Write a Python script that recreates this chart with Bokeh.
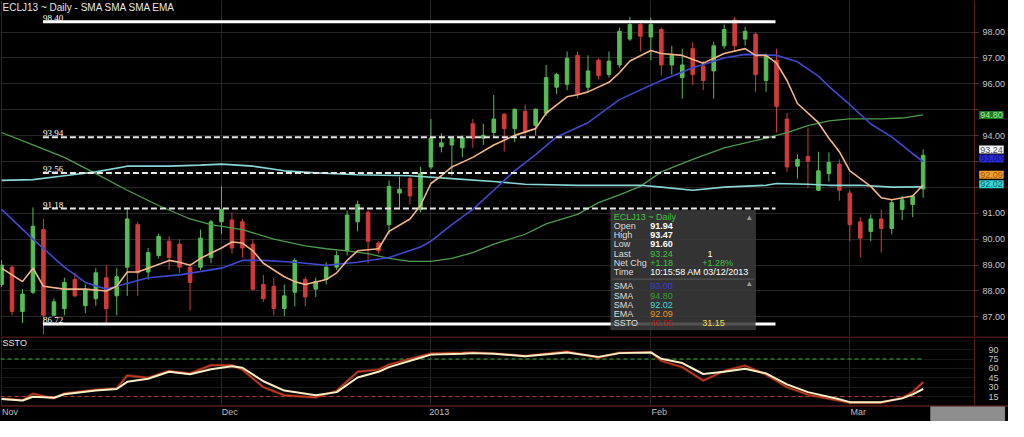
from bokeh.plotting import figure
from bokeh.models import (Range1d, FixedTicker, Label, BoxAnnotation, ColumnDataSource,
                          NumeralTickFormatter, Span)
from bokeh.layouts import column
from bokeh.embed import file_html
from bokeh.resources import INLINE
from bokeh.core.properties import value

# ---------------- data ----------------
opens = [88.25, 88.92, 87.21, 87.95, 90.37, 87.06, 87.32, 88.44, 87.43, 87.70,
         88.51, 87.81, 88.92, 90.56, 88.73, 89.37, 89.92, 89.81, 88.92, 88.92,
         89.29, 90.67, 90.74, 90.67, 89.81, 88.25, 88.18, 87.32, 87.95, 88.44,
         88.07, 88.44, 88.92, 89.55, 90.67, 91.04, 89.85, 90.56, 91.78, 92.34,
         91.15, 92.79, 93.57, 93.64, 93.53, 94.46, 93.90, 94.12, 94.83, 94.27,
         94.94, 94.39, 94.87, 95.87, 95.98, 97.10, 95.87, 96.91, 96.36, 96.73,
         97.73, 98.29, 97.81, 98.10, 96.73, 96.24, 97.36, 96.69, 96.50, 97.47,
         98.47, 97.73, 97.92, 96.13, 96.91, 94.64, 92.82, 93.20, 91.89, 92.53,
         92.90, 91.78, 90.67, 90.30, 90.78, 90.41, 91.15, 91.34, 91.94]
highs = [89.18, 88.99, 88.07, 91.23, 90.78, 87.70, 88.51, 88.70, 88.25, 88.88,
         88.99, 88.88, 91.23, 90.67, 89.66, 90.22, 90.11, 90.00, 89.07, 90.37,
         90.74, 92.04, 91.04, 90.78, 90.00, 88.62, 88.51, 88.25, 89.26, 88.55,
         88.51, 89.11, 89.55, 91.11, 91.49, 91.11, 89.92, 92.27, 92.41, 92.41,
         92.79, 94.64, 94.09, 93.94, 94.01, 94.64, 94.46, 95.57, 94.87, 95.05,
         95.20, 95.05, 96.73, 96.43, 97.25, 97.25, 97.10, 96.99, 97.25, 98.18,
         98.59, 98.36, 98.55, 98.18, 97.47, 97.36, 97.62, 96.88, 97.62, 98.29,
         98.59, 98.21, 97.99, 97.17, 97.36, 94.87, 93.27, 94.31, 93.38, 93.35,
         93.08, 91.89, 90.85, 90.96, 91.15, 91.52, 91.67, 91.71, 93.47]
lows = [88.14, 87.06, 86.76, 87.88, 86.32, 87.03, 87.06, 87.77, 87.14, 87.43,
        86.76, 87.06, 87.81, 87.81, 88.44, 89.26, 88.81, 88.70, 87.25, 88.81,
        89.07, 90.19, 89.44, 89.29, 88.00, 87.58, 87.06, 87.03, 87.40, 87.40,
        87.77, 88.25, 88.81, 89.37, 90.30, 89.07, 89.44, 90.19, 91.15, 91.34,
        91.04, 92.70, 93.35, 92.45, 93.16, 93.53, 93.64, 93.90, 93.38, 93.75,
        94.01, 94.01, 94.76, 95.61, 95.76, 95.43, 95.69, 96.17, 96.24, 96.62,
        97.66, 97.25, 96.91, 96.32, 96.36, 95.43, 95.95, 95.76, 95.43, 97.36,
        97.25, 97.47, 95.69, 95.69, 94.12, 92.60, 92.34, 91.97, 91.86, 92.23,
        91.49, 89.92, 89.29, 89.92, 89.48, 90.19, 90.74, 90.85, 91.60]
closes = [89.00, 87.21, 87.88, 90.50, 87.06, 87.58, 88.33, 87.81, 88.07, 88.70,
          87.32, 88.55, 90.78, 88.70, 89.48, 90.11, 89.29, 88.92, 88.33, 90.04,
          90.67, 91.15, 89.66, 89.66, 88.07, 87.70, 87.32, 87.81, 89.18, 87.77,
          88.37, 88.92, 89.37, 90.93, 91.34, 89.92, 89.55, 92.04, 91.93, 91.67,
          92.53, 93.90, 93.72, 93.90, 93.94, 93.90, 94.01, 94.64, 94.27, 95.02,
          94.12, 95.02, 96.24, 96.36, 96.99, 95.61, 96.50, 96.32, 96.88, 98.03,
          98.29, 97.84, 98.29, 96.73, 97.10, 96.73, 96.36, 96.13, 97.47, 98.10,
          97.47, 98.03, 96.36, 97.06, 95.13, 92.79, 93.08, 93.01, 92.64, 92.97,
          91.89, 90.56, 90.04, 90.78, 90.41, 91.41, 91.52, 91.67, 93.24]

# moving averages: (bar index, value) samples
sma_blue_x = [0, 3, 6, 8, 10, 11, 14, 17, 21, 23, 25, 28, 31, 34, 37, 40, 41, 43, 45, 47,
              49, 51, 53, 56, 59, 62, 63, 66, 69, 71, 74, 76, 78, 79, 81, 83, 85, 87, 88]
sma_blue_y = [91.15, 90.00, 88.92, 88.33, 88.07, 88.18, 88.51, 88.62, 88.88, 89.18, 89.18,
              89.11, 88.99, 89.11, 89.29, 89.70, 89.92, 90.56, 91.15, 91.89, 92.64, 93.27,
              93.95, 94.50, 95.39, 95.95, 96.13, 96.62, 97.00, 97.14, 97.10, 96.85, 96.30,
              95.90, 95.20, 94.45, 93.95, 93.30, 93.00]
ema_x = [0, 2, 3, 4, 6, 8, 10, 11, 12, 13, 14, 16, 17, 18, 19, 21, 22, 23, 24, 25, 27, 28,
         29, 31, 32, 33, 34, 36, 37, 39, 40, 41, 42, 43, 45, 47, 49, 51, 52, 54, 55, 56, 58,
         59, 60, 62, 63, 65, 67, 69, 71, 72, 73, 74, 75, 76, 78, 79, 80, 81, 83, 84, 85, 87, 88]
ema_y = [88.88, 88.36, 88.88, 88.18, 88.07, 88.07, 88.00, 88.18, 88.73, 88.73, 88.88, 89.18,
         89.11, 88.99, 89.26, 89.66, 89.89, 89.85, 89.55, 89.07, 88.55, 88.36, 88.25, 88.44,
         88.70, 89.18, 89.55, 89.63, 90.30, 90.78, 91.30, 92.15, 92.45, 92.79, 93.16, 93.64,
         94.01, 94.27, 94.87, 95.50, 95.58, 95.69, 96.06, 96.43, 96.88, 97.29, 97.17, 97.10,
         96.80, 97.17, 97.36, 97.10, 97.10, 96.80, 96.13, 95.24, 94.50, 93.90, 93.38, 92.64,
         92.04, 91.60, 91.52, 91.67, 92.09]
sma_green_x = [0, 3, 6, 9, 12, 15, 18, 20, 23, 26, 29, 31, 33, 35, 37, 39, 41, 43, 45, 47,
               50, 52, 55, 57, 59, 61, 63, 66, 69, 73, 75, 77, 79, 81, 84, 86, 88]
sma_green_y = [94.12, 93.64, 93.16, 92.53, 91.89, 91.30, 90.78, 90.56, 90.37, 90.00, 89.74,
               89.63, 89.55, 89.44, 89.26, 89.14, 89.14, 89.26, 89.48, 89.81, 90.19, 90.59,
               90.96, 91.41, 91.71, 92.04, 92.60, 93.08, 93.53, 93.90, 94.12, 94.39, 94.57,
               94.65, 94.65, 94.68, 94.80]
sma_cyan_x = [0, 3, 6, 9, 12, 16, 19, 21, 24, 27, 30, 32, 34, 39, 43, 47, 50, 55, 61, 63,
              66, 69, 73, 74, 77, 79, 82, 85, 88]
sma_cyan_y = [92.27, 92.30, 92.45, 92.60, 92.82, 92.82, 92.86, 92.90, 92.82, 92.64, 92.56,
              92.53, 92.49, 92.45, 92.34, 92.23, 92.12, 92.08, 92.08, 92.01, 91.89, 92.01,
              92.08, 92.15, 92.12, 92.08, 92.08, 92.01, 92.02]

# slow stochastic
ssto_x = [0, 2, 3, 5, 6, 9, 11, 12, 14, 16, 18, 20, 22, 23, 25, 27, 30, 32, 34, 36, 37, 40,
          41, 44, 45, 47, 50, 54, 57, 59, 62, 63, 65, 67, 69, 71, 73, 75, 77, 80, 81, 84, 86,
          87, 88]
ssto_d = [11, 8.5, 14.5, 13, 18.5, 24.5, 27, 38.5, 43.5, 54.5, 50.5, 58.5, 63.4, 61, 39.4,
          24.5, 17, 22, 45.4, 54.5, 62, 77, 82, 83.5, 84.4, 83.5, 79.5, 85.5, 78.4, 84.4,
          85.5, 75.4, 68.5, 51, 54.5, 59.5, 52, 34.5, 22, 10.5, 6, 6, 12, 18.5, 27]
ssto_k = [12, 9, 19.5, 12, 20, 26, 28, 48.5, 45, 56, 52, 65, 65, 58, 30, 17, 13.5, 24, 54.5,
          58, 66, 79.5, 84, 85, 85.5, 84, 80, 87, 77, 85, 86, 72, 62, 40.5, 56, 64.5, 50, 30,
          18, 8, 5, 5, 13, 22, 38]

levels = [98.40, 93.94, 92.56, 91.18, 86.72]
level_solid = [True, False, False, False, True]
level_start, level_end = 3.95, 73.9

month_ticks = [0, 21, 41, 62, 81]
month_labels = ["Nov", "Dec", "2013", "Feb", "Mar"]
price_ticks = [87, 88, 89, 90, 91, 92, 93, 94, 95, 96, 97, 98]
ssto_ticks = [15, 30, 45, 60, 75, 90]
ssto_levels = [75, 15]

# value tags shown on the price scale: (shown at, text, background, text colour)
tag_pos = [94.80, 93.46, 93.12, 92.49, 92.12]
tag_text = ["94.80", "93.24", "93.00", "92.09", "92.02"]
tag_bg = ["#1f7a1f", "#f4f4f4", "#2a2ad0", "#f0a030", "#3ad4d4"]
tag_fg = ["#a8e8a8", "#50506e", "#10108a", "#a85508", "#0a6a6a"]

# ---------------- styling ----------------
FONT = "Liberation Sans"
BG = "#000000"
FRAME = "#5a1e1e"
GRID = "#262626"
UP, DOWN = "#55bd55", "#d43a3a"
AXIS_AT = 92.9          # bar-index position of the price-scale edge
X_END = 96.15
LABEL_SHIFT = 0.8       # month names start at their grid line

n = len(opens)
idx = list(range(n))
src = ColumnDataSource(dict(
    x=idx, h=highs, l=lows,
    top=[max(o, c) for o, c in zip(opens, closes)],
    bottom=[min(o, c) for o, c in zip(opens, closes)],
    color=[UP if c >= o else DOWN for o, c in zip(opens, closes)]))

xr = Range1d(-0.1, X_END)

p1 = figure(width=1008, height=336, x_range=xr, y_range=Range1d(86.24, 99.22),
            x_axis_location=None, y_axis_location="right", output_backend="svg",
            toolbar_location=None, background_fill_color=BG, border_fill_color=BG,
            min_border_left=0, min_border_right=0, min_border_top=0, min_border_bottom=0,
            outline_line_color=None)
p1.xgrid.ticker = FixedTicker(ticks=month_ticks)
p1.ygrid.ticker = FixedTicker(ticks=price_ticks)
p1.xgrid.grid_line_color = GRID
p1.ygrid.grid_line_color = GRID
p1.ygrid.cross_bounds = (-0.1, AXIS_AT)
ya = p1.yaxis[0]
ya.fixed_location = AXIS_AT
ya.ticker = FixedTicker(ticks=price_ticks)
ya.formatter = NumeralTickFormatter(format="0.00")
ya.major_label_overrides = {95: "", 93: "", 92: ""}
ya.axis_line_color = FRAME
ya.major_tick_out = 4
ya.major_tick_in = 0
ya.major_tick_line_color = "#553333"
ya.minor_tick_line_color = None
ya.major_label_text_font = FONT
ya.major_label_text_font_size = "9px"
ya.major_label_text_color = "#c8c8c8"
ya.major_label_standoff = 4

# candles
p1.segment(x0="x", y0="l", x1="x", y1="h", color="color", line_width=1, source=src)
p1.vbar(x="x", width=0.34, top="top", bottom="bottom", fill_color="color",
        line_color="color", source=src)

# moving averages
p1.line(sma_green_x, sma_green_y, line_color="#4f9a4f", line_width=1.3)
p1.line(sma_cyan_x, sma_cyan_y, line_color="#8ad6d6", line_width=1.6)
p1.line(sma_blue_x, sma_blue_y, line_color="#4048d0", line_width=1.6)
p1.line(ema_x, ema_y, line_color="#f2b48a", line_width=1.6)

# horizontal levels
solid = [v for v, s in zip(levels, level_solid) if s]
dashed = [v for v, s in zip(levels, level_solid) if not s]
p1.segment(x0=[level_start] * len(solid), y0=solid, x1=[level_end] * len(solid), y1=solid,
           line_color="#ffffff", line_width=3)
p1.segment(x0=[level_start] * len(dashed), y0=dashed, x1=[level_end] * len(dashed), y1=dashed,
           line_color="#e8e8e8", line_width=2, line_dash="6 3")
p1.text(x=[level_start] * len(levels), y=levels, text=[f"{v:.2f}" for v in levels],
        text_font=value("Liberation Serif"), text_font_size="9px", text_color="#ffffff",
        text_baseline="bottom", y_offset=-1)

# title
p1.add_layout(Label(x=0.1, y=98.96, text="ECLJ13 ~ Daily  -  SMA SMA SMA EMA",
                    text_font=FONT, text_font_size="10px", text_color="#e6e6e6",
                    text_baseline="middle"))

# value tags on the price scale
for yv, txt, bg, fg in zip(tag_pos, tag_text, tag_bg, tag_fg):
    p1.add_layout(Label(x=AXIS_AT + 0.45, y=yv, text=txt, text_font=FONT,
                        text_font_size="9px", text_color=fg, text_baseline="middle",
                        background_fill_color=bg, padding=1))

# info box
BX0, BX1 = 58.18, 71.99
p1.add_layout(BoxAnnotation(left=BX0, right=BX1, top=91.11, bottom=86.50,
                            fill_color="#3a3a3a", fill_alpha=0.88, line_color="#6a6a6a",
                            line_width=1))
p1.add_layout(BoxAnnotation(left=BX0 + 0.1, right=BX1 - 0.1, top=88.457, bottom=88.455,
                            fill_alpha=0, line_color="#7a7a7a", line_width=1))
C1, C2, C3 = 58.46, 61.94, 66.9


def info(fig, x, y, txt, color, bold=False):
    fig.add_layout(Label(x=x, y=y, text=txt, text_font=FONT, text_font_size="9px",
                         text_color=color, text_baseline="middle",
                         text_font_style="bold" if bold else "normal"))


info(p1, C1, 90.872, "ECLJ13 ~ Daily", "#3fc23f")
info(p1, 71.2, 90.872, "▴", "#9a9a9a")
info(p1, 71.2, 88.30, "▴", "#9a9a9a")
rows = [(90.515, "Open", "91.94", "#ffffff", True, "", None),
        (90.158, "High", "93.47", "#ffffff", True, "", None),
        (89.802, "Low", "91.60", "#ffffff", True, "", None),
        (89.445, "Last", "93.24", "#3fc23f", False, "1", "#ffffff"),
        (89.088, "Net Chg", "+1.18", "#3fc23f", False, "+1.28%", "#3fc23f"),
        (88.731, "Time", "10:15:58 AM 03/12/2013", "#ffffff", False, "", None),
        (88.177, "SMA", "93.00", "#3a3ad8", False, "", None),
        (87.820, "SMA", "94.80", "#3a9a3a", False, "", None),
        (87.463, "SMA", "92.02", "#40d8d8", False, "", None),
        (87.107, "EMA", "92.09", "#e8962a", False, "", None),
        (86.750, "SSTO", "40.05", "#b01818", False, "31.15", "#e8e040")]
for yv, lab, val, vcol, bold, extra, ecol in rows:
    info(p1, C1, yv, lab, "#dcdcdc")
    info(p1, C2, yv, val, vcol, bold)
    if extra:
        info(p1, C3 + (0.5 if extra == "1" else 0), yv, extra, ecol)

# ---------------- oscillator panel (with the date scale underneath) ----------------
p2 = figure(width=1008, height=85, x_range=xr, y_range=Range1d(-25, 111),
            y_axis_location="right", output_backend="svg", toolbar_location=None,
            background_fill_color=BG, border_fill_color=BG, min_border_left=0,
            min_border_right=0, min_border_top=0, min_border_bottom=0,
            outline_line_color=None)
p2.xgrid.ticker = FixedTicker(ticks=month_ticks)
p2.xgrid.grid_line_color = GRID
p2.xgrid.cross_bounds = (0, 111)
p2.ygrid.ticker = FixedTicker(ticks=ssto_ticks)
p2.ygrid.grid_line_color = "#181818"
p2.ygrid.cross_bounds = (-0.1, AXIS_AT)
xa = p2.xaxis[0]
xa.fixed_location = 0
xa.ticker = FixedTicker(ticks=[t + LABEL_SHIFT for t in month_ticks])
xa.major_label_overrides = {t + LABEL_SHIFT: s for t, s in zip(month_ticks, month_labels)}
xa.axis_line_color = None
xa.major_tick_line_color = None
xa.major_tick_out = 0
xa.major_tick_in = 0
xa.minor_tick_line_color = None
xa.major_label_standoff = 1
xa.major_label_text_font = FONT
xa.major_label_text_font_size = "9px"
xa.major_label_text_color = "#bdbdbd"
y2 = p2.yaxis[0]
y2.fixed_location = AXIS_AT
y2.bounds = (0, 111)
y2.ticker = FixedTicker(ticks=ssto_ticks)
y2.axis_line_color = FRAME
y2.major_tick_line_color = None
y2.minor_tick_line_color = None
y2.major_label_standoff = 8
y2.major_label_text_font = FONT
y2.major_label_text_font_size = "9px"
y2.major_label_text_color = "#c8c8c8"

p2.add_layout(Span(location=110.3, dimension="width", line_color=FRAME, line_width=1.5))
p2.add_layout(Span(location=0, dimension="width", line_color=FRAME, line_width=1.5))
# scroll bar at the bottom right
p2.add_layout(BoxAnnotation(left=88.7, right=95.8, top=-1.2, bottom=None,
                            fill_color="#8e8e8e", fill_alpha=1, line_color="#b0b0b0",
                            line_width=1))
p2.segment(x0=[-0.1, -0.1], y0=ssto_levels, x1=[88, 88], y1=ssto_levels,
           line_color=["#3fae3f", "#b03535"], line_width=1.2, line_dash="4 3")
p2.line(ssto_x, ssto_k, line_color="#e0502a", line_width=3, line_alpha=0.35)
p2.line(ssto_x, ssto_k, line_color="#c83a22", line_width=1.4)
p2.line(ssto_x, ssto_d, line_color="#f6efc4", line_width=2)

p2.add_layout(Label(x=0.1, y=101, text="SSTO", text_font=FONT, text_font_size="9px",
                    text_color="#e0e0e0", text_baseline="middle"))

layout = column(p1, p2, spacing=0, background="#000000")
open("out.html", "w").write(file_html(layout, INLINE))
